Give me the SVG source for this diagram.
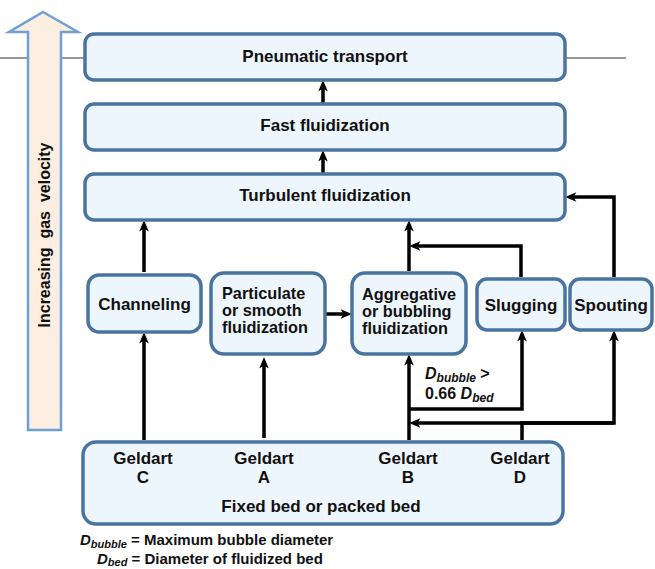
<svg xmlns="http://www.w3.org/2000/svg" width="655" height="569" viewBox="0 0 655 569">
<style>
text{font-family:"Liberation Sans",Arial,Helvetica,sans-serif;font-weight:bold;fill:#111;}
.lbl{font-size:17px;text-anchor:middle;}
.ml{font-size:16.3px;}
.box{fill:#eef6fd;stroke:#4a74a0;stroke-width:3.5;}
.con{fill:none;stroke:#000;stroke-width:3.5;marker-end:url(#ah);}
.it{font-style:italic;}
</style>
<defs>
<marker id="ah" markerUnits="userSpaceOnUse" markerWidth="12" markerHeight="12" viewBox="0 0 10 10" refX="5" refY="5" orient="auto">
<path d="M0.5,1 L10,5 L0.5,9 L3,5 z" fill="#000"/>
</marker>
</defs>
<line x1="0" y1="58" x2="84" y2="58" stroke="#333" stroke-width="1.2"/>
<line x1="565" y1="58" x2="626" y2="58" stroke="#333" stroke-width="1.2"/>
<g id="velocity-arrow">
<path d="M43,12 L78,32 L61,32 L61,430 L28,430 L28,32 L9,32 z" fill="#fdeee2" stroke="#6f9fd5" stroke-width="2.5"/>
<text transform="translate(50,235) rotate(-90)" xml:space="preserve" style="font-size:16px;text-anchor:middle">Increasing  gas  velocity</text>
</g>
<g id="connectors">
<path class="con" d="M323,103 V86"/>
<path class="con" d="M323,173 V156"/>
<path class="con" d="M144,272 V226"/>
<path class="con" d="M409,271 V226"/>
<path class="con" d="M521,277 V246 H415"/>
<path class="con" d="M614,277 V197 H571"/>
<path class="con" d="M326,314 H346"/>
<path class="con" d="M144,440 V338"/>
<path class="con" d="M264,438 V363"/>
<path class="con" d="M409,440 V360"/>
<path class="con" d="M409,409 H522 V336"/>
<path class="con" d="M522,440 V423 H614 V336"/>
<path class="con" d="M614,423 H415"/>
</g>
<g id="pneumatic">
<rect class="box" x="85" y="34" width="480" height="46" rx="9"/>
<text class="lbl" x="325" y="62">Pneumatic transport</text>
</g>
<g id="fast">
<rect class="box" x="85" y="104" width="480" height="46" rx="9"/>
<text class="lbl" x="325" y="131">Fast fluidization</text>
</g>
<g id="turbulent">
<rect class="box" x="85" y="174" width="480" height="46" rx="9"/>
<text class="lbl" x="325" y="201">Turbulent fluidization</text>
</g>
<g id="channeling">
<rect class="box" x="88" y="275" width="113" height="57" rx="11"/>
<text class="lbl" x="144.5" y="310">Channeling</text>
</g>
<g id="particulate">
<rect class="box" x="211" y="273" width="114" height="81" rx="13"/>
<text class="ml" x="222" y="299">Particulate</text>
<text class="ml" x="222" y="316">or smooth</text>
<text class="ml" x="222" y="333">fluidization</text>
</g>
<g id="aggregative">
<rect class="box" x="352" y="273" width="114" height="81" rx="13"/>
<text class="ml" x="362" y="300">Aggregative</text>
<text class="ml" x="362" y="317">or bubbling</text>
<text class="ml" x="362" y="334">fluidization</text>
</g>
<g id="slugging">
<rect class="box" x="477" y="279" width="88" height="51" rx="10"/>
<text class="lbl" x="521" y="311">Slugging</text>
</g>
<g id="spouting">
<rect class="box" x="570" y="279" width="82" height="51" rx="10"/>
<text class="lbl" x="611" y="311">Spouting</text>
</g>
<g id="fixed-bed">
<rect class="box" x="83" y="442" width="480" height="82" rx="13"/>
<text class="lbl" x="143" y="464">Geldart</text>
<text class="lbl" x="143" y="483">C</text>
<text class="lbl" x="264" y="464">Geldart</text>
<text class="lbl" x="264" y="483">A</text>
<text class="lbl" x="408" y="464">Geldart</text>
<text class="lbl" x="408" y="483">B</text>
<text class="lbl" x="520" y="464">Geldart</text>
<text class="lbl" x="520" y="483">D</text>
<text class="lbl" x="321" y="512">Fixed bed or packed bed</text>
</g>
<g id="condition-label">
<text x="425" y="379" style="font-size:16px"><tspan class="it">D</tspan><tspan class="it" style="font-size:12px" dy="3">bubble</tspan><tspan dy="-3"> &gt;</tspan></text>
<text x="425" y="399" style="font-size:16px">0.66 <tspan class="it">D</tspan><tspan class="it" style="font-size:12px" dy="3">bed</tspan></text>
</g>
<g id="legend">
<text x="80" y="545" style="font-size:15px"><tspan class="it">D</tspan><tspan class="it" style="font-size:11px" dy="2.5">bubble</tspan><tspan dy="-2.5"> = Maximum bubble diameter</tspan></text>
<text x="97" y="563.5" style="font-size:15px"><tspan class="it">D</tspan><tspan class="it" style="font-size:11px" dy="2.5">bed</tspan><tspan dy="-2.5"> = Diameter of fluidized bed</tspan></text>
</g>
</svg>
